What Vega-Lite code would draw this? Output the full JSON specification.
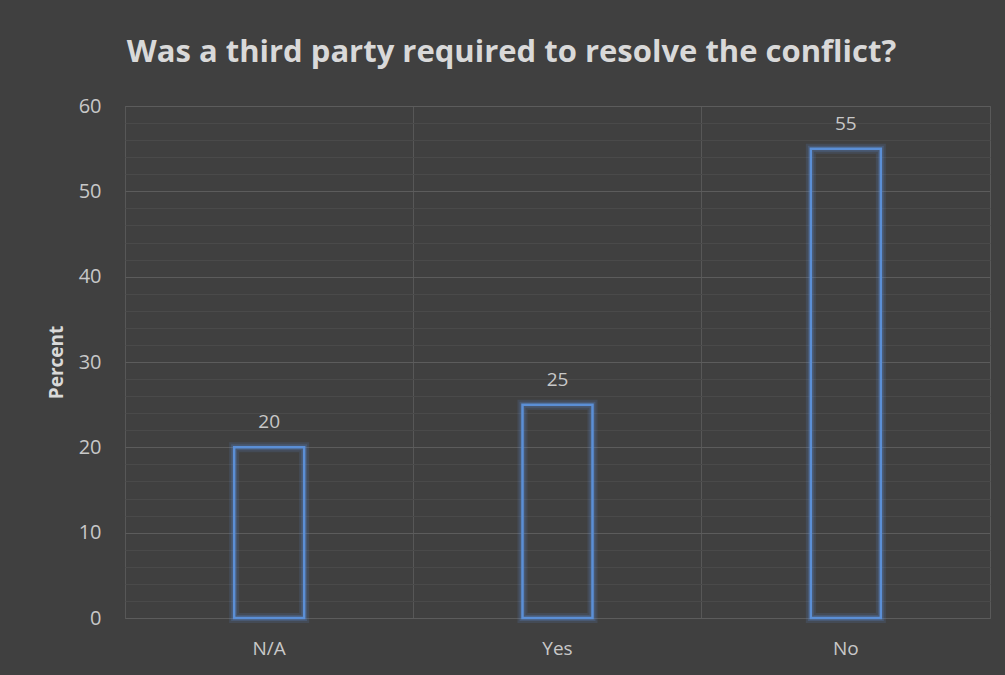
{
  "$schema": "https://vega.github.io/schema/vega-lite/v6.json",
  "autosize": "none",
  "width": 865,
  "height": 512,
  "padding": {"left": 125, "top": 106, "right": 15, "bottom": 57},
  "background": "#404040",
  "title": {
    "text": "Was a third party required to resolve the conflict?",
    "font": "Open Sans",
    "fontSize": 31,
    "fontWeight": "bold",
    "color": "#d9d9d9",
    "anchor": "middle",
    "dx": -46,
    "offset": 27
  },
  "data": {
    "values": [
      {"answer": "N/A", "percent": 20},
      {"answer": "Yes", "percent": 25},
      {"answer": "No", "percent": 55}
    ]
  },
  "encoding": {
    "x": {
      "field": "answer",
      "type": "nominal",
      "sort": null,
      "scale": {"paddingInner": 0, "paddingOuter": 0},
      "axis": {
        "title": null,
        "labelAngle": 0,
        "labelFont": "Open Sans",
        "labelFontSize": 19,
        "labelColor": "#c8c8c8",
        "labelPadding": 21,
        "ticks": false,
        "domain": false,
        "grid": true,
        "bandPosition": 0,
        "gridColor": "#575757",
        "gridWidth": 1
      }
    },
    "y": {
      "field": "percent",
      "type": "quantitative",
      "scale": {"domain": [0, 60], "nice": false},
      "axis": {
        "title": "Percent",
        "titleFont": "Open Sans",
        "titleFontSize": 19,
        "titleFontWeight": "bold",
        "titleColor": "#d9d9d9",
        "titlePadding": 12,
        "values": [0, 2, 4, 6, 8, 10, 12, 14, 16, 18, 20, 22, 24, 26, 28, 30, 32, 34, 36, 38, 40, 42, 44, 46, 48, 50, 52, 54, 56, 58, 60],
        "labelExpr": "datum.value % 10 === 0 ? datum.label : ''",
        "labelFont": "Open Sans",
        "labelFontSize": 20,
        "labelColor": "#c8c8c8",
        "labelPadding": 24,
        "ticks": false,
        "domain": false,
        "gridColor": {"condition": {"test": "datum.value % 10 === 0", "value": "#5c5c5c"}, "value": "#4a4a4a"},
        "gridWidth": 1
      }
    }
  },
  "layer": [
    {
      "mark": {"type": "bar", "size": 70, "fill": null, "fillOpacity": 0, "stroke": "#5b8fd6", "strokeWidth": 10, "strokeOpacity": 0.15}
    },
    {
      "mark": {"type": "bar", "size": 70, "fill": null, "fillOpacity": 0, "stroke": "#5b8fd6", "strokeWidth": 6, "strokeOpacity": 0.22}
    },
    {
      "mark": {"type": "bar", "size": 70, "fill": null, "fillOpacity": 0, "stroke": "#5b8fd6", "strokeWidth": 2.5}
    },
    {
      "mark": {"type": "text", "dy": -25, "font": "Open Sans", "fontSize": 19, "color": "#c8c8c8"},
      "encoding": {"text": {"field": "percent", "type": "quantitative"}}
    }
  ],
  "config": {
    "view": {"stroke": "#595959", "strokeWidth": 1}
  }
}
